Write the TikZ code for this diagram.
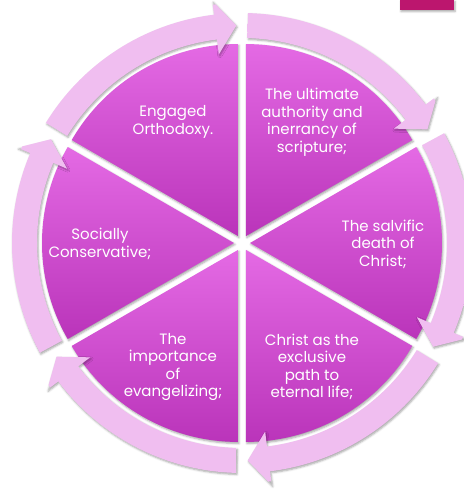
\documentclass[tikz,border=0pt]{standalone}
\usepackage{fontspec}
\setmainfont{Poppins}
\usetikzlibrary{shadows, shadows.blur}

\definecolor{wedgetop}{RGB}{228,106,228}
\definecolor{wedgebot}{RGB}{186,52,186}
\definecolor{bandlight}{RGB}{253,238,253}
\definecolor{banddark}{RGB}{240,190,240}
\definecolor{tabmagenta}{RGB}{188,22,110}
\pgfdeclareradialshading{bandshade}{\pgfpoint{0bp}{0bp}}{color(0bp)=(banddark); color(42bp)=(banddark); color(47.5bp)=(bandlight); color(50bp)=(bandlight)}

\begin{document}
\begin{tikzpicture}[
        x=1pt, y=1pt,
        softshadow/.style={blur shadow={shadow xshift=1pt, shadow yshift=-1.5pt, shadow blur radius=2pt, shadow opacity=35}},
        wedge/.style={top color=wedgetop, bottom color=wedgebot, softshadow},
        band/.style={path picture={\shade[shading=bandshade] (0,0) circle (240);}, softshadow},
        itemtext/.style={text=white, align=center, font=\fontsize{15}{17.5}\selectfont}
    ]
    \useasboundingbox (-242,-248) rectangle (222,243);

    % corner tab
    \fill[tabmagenta, softshadow] (158,233) rectangle (212,243);

    % six slices, pushed out a little from the middle
    \foreach \mid in {60,0,-60,-120,180,120}
        \path[wedge] (\mid:8) -- ++(\mid+30:192)
            arc[start angle=\mid+30, end angle=\mid-30, radius=192] -- cycle;

    % arrows running clockwise round the rim
    \foreach \t in {90,30,-30,-90,-150,-210}
        \path[band] (\t-1.5:205) arc[start angle=\t-1.5, end angle=\t-53, radius=205]
            -- (\t-53:190) -- (\t-58.5:217.5) -- (\t-53:244) -- (\t-53:230)
            arc[start angle=\t-53, end angle=\t-1.5, radius=230] -- cycle;

    \node[itemtext] (orthodoxy) at (-69,121) {Engaged\\Orthodoxy.};
    \node[itemtext] (scripture) at (70,121) {The ultimate\\authority and\\inerrancy of\\scripture;};
    \node[itemtext] (salvific) at (141,-1) {The salvific\\death of\\Christ;};
    \node[itemtext] (exclusive) at (70,-124) {Christ as the\\exclusive\\path to\\eternal life;};
    \node[itemtext] (evangel) at (-69,-124) {The\\importance\\of\\evangelizing;};
    \node[itemtext] (social) at (-142,-1) {Socially\\Conservative;};
\end{tikzpicture}
\end{document}
